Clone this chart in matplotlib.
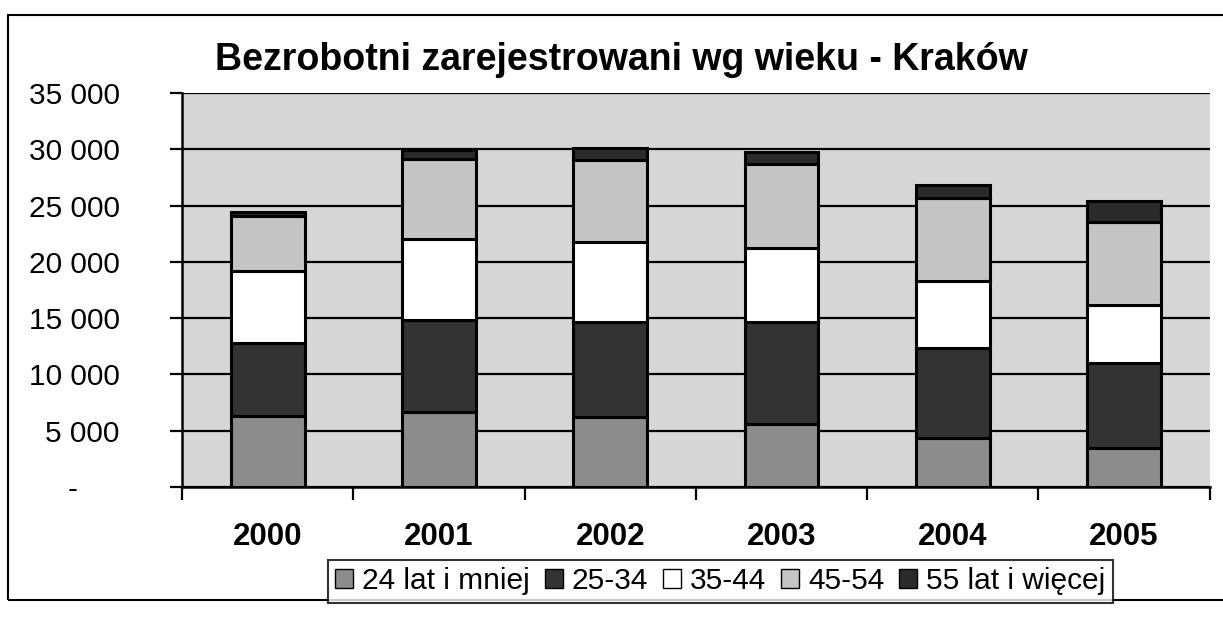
import numpy as np
import matplotlib
matplotlib.use("Agg")
import matplotlib.pyplot as plt
from matplotlib.patches import Rectangle, Patch

plt.rcParams['font.family'] = ['Liberation Sans', 'DejaVu Sans']

years = ['2000', '2001', '2002', '2003', '2004', '2005']
series_names = ['24 lat i mniej', '25-34', '35-44', '45-54', '55 lat i więcej']

# values (persons)
age_24_less = [6270, 6640, 6200, 5600, 4300, 3450]
age_25_34 = [6540, 8210, 8440, 9070, 8060, 7530]
age_35_44 = [6370, 7170, 7090, 6550, 5900, 5150]
age_45_54 = [4920, 7150, 7310, 7440, 7460, 7440]
age_55_more = [360, 750, 1060, 1140, 1080, 1880]

y_ticks = [0, 5000, 10000, 15000, 20000, 25000, 30000, 35000]

series = [age_24_less, age_25_34, age_35_44, age_45_54, age_55_more]
colors = ['#8c8c8c', '#333333', '#ffffff', '#c4c4c4', '#2b2b2b']


def tick_label(v):
    if v == 0:
        return '-     '
    return f"{v:,.0f}".replace(',', ' ')


fig = plt.figure(figsize=(12.23, 6.17), dpi=100)
ax = fig.add_axes([0.149, 0.211, 0.840, 0.638])
ax.set_facecolor('#d6d6d6')

x = np.arange(len(years))
bottom = np.zeros(len(years))
for vals, col, name in zip(series, colors, series_names):
    ax.bar(x, vals, width=0.43, bottom=bottom, color=col, edgecolor='black',
           linewidth=2.2, label=name, zorder=3)
    bottom += np.array(vals)

ax.set_ylim(0, 35000)
ax.set_xlim(-0.5, len(years) - 0.5)
ax.set_yticks(y_ticks)
ax.set_yticklabels([tick_label(v) for v in y_ticks], fontsize=21.5)
ax.yaxis.grid(True, color='black', linewidth=1.6, zorder=1)
ax.set_axisbelow(True)

ax.set_xticks(x)
ax.set_xticklabels(years, fontsize=22.5, fontweight='bold')
ax.set_xticks(np.arange(-0.5, len(years)), minor=True)
ax.tick_params(axis='x', which='major', length=0, pad=25)
ax.tick_params(axis='x', which='minor', length=9, width=1.6, direction='out')
ax.tick_params(axis='y', length=9, width=1.6, direction='out', pad=36)

for side in ['top', 'right']:
    ax.spines[side].set_visible(False)
ax.spines['left'].set_linewidth(1.8)
ax.spines['bottom'].set_linewidth(1.8)

fig.text(0.508, 0.902, 'Bezrobotni zarejestrowani wg wieku - Kraków',
         ha='center', va='center', fontsize=27, fontweight='bold')

# outer chart frame
fig.patches.append(Rectangle((0.0065, 0.027), 1.2, 0.949, transform=fig.transFigure,
                             fill=False, edgecolor='black', linewidth=1.5))

handles = [Patch(facecolor=c, edgecolor='black', linewidth=1.0) for c in colors]
leg = fig.legend(handles, series_names, loc='center', bbox_to_anchor=(0.589, 0.058),
                 ncol=5, fontsize=21.5, frameon=True, fancybox=False,
                 edgecolor='black', handlelength=0.6, handleheight=0.6,
                 handletextpad=0.3, columnspacing=0.5, borderpad=0.25,
                 borderaxespad=0)
leg.get_frame().set_linewidth(1.5)

fig.savefig('out.png', dpi=100, facecolor='white')
